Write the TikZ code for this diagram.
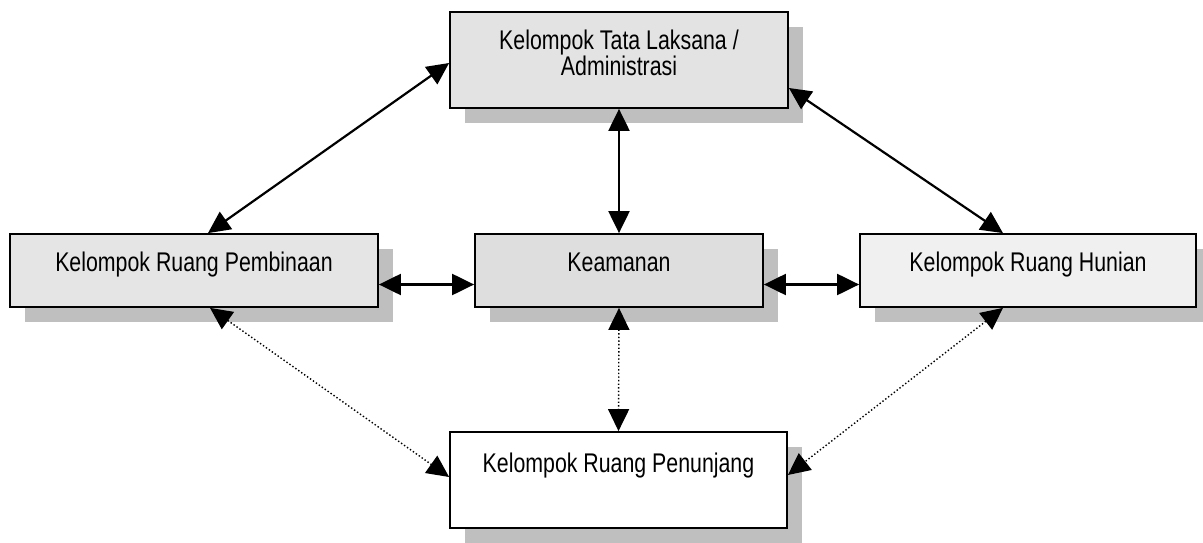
\documentclass[tikz,border=0pt]{standalone}
\usepackage{fontspec}
\setmainfont[FakeStretch=0.79]{Liberation Sans}
\usetikzlibrary{arrows.meta,shadows}
\begin{document}
\begin{tikzpicture}[x=1pt,y=-1pt,
  box/.style={draw=black, line width=1.8pt, rectangle, inner sep=0pt,
    drop shadow={shadow xshift=15pt, shadow yshift=-15pt, fill=gray!50, opacity=1}},
  lbl/.style={anchor=base, inner sep=0pt, font=\fontsize{27}{28}\selectfont},
  tip/.tip={Triangle[length=22pt,width=21pt]},
  solidarrow/.style={line width=2.2pt, tip-tip},
  dotarrow/.style={line width=1.4pt, dash pattern=on 1.4pt off 2.2pt, tip-tip}]
\useasboundingbox (0,0) rectangle (1203,543);

\node[box, fill=gray!22, minimum width=338pt, minimum height=96pt] (adm) at (619,60) {};
\node[lbl] (adm1) at (619,50) {Kelompok Tata Laksana /};
\node[lbl] (adm2) at (619,76) {Administrasi};

\node[box, fill=gray!20, minimum width=368pt, minimum height=73pt] (pemb) at (194,270.5) {};
\node[lbl] (pembt) at (194,271) {Kelompok Ruang Pembinaan};

\node[box, fill=gray!26, minimum width=288pt, minimum height=73pt] (aman) at (619,270.5) {};
\node[lbl] (amant) at (619,271) {Keamanan};

\node[box, fill=gray!12, minimum width=336pt, minimum height=73pt] (hun) at (1028,270.5) {};
\node[lbl] (hunt) at (1028,271) {Kelompok Ruang Hunian};

\node[box, fill=white, minimum width=337pt, minimum height=96pt] (penj) at (618.5,480) {};
\node[lbl] (penjt) at (618.5,472) {Kelompok Ruang Penunjang};

\draw[solidarrow] ([yshift=-3pt]adm.west) -- ([xshift=14pt]pemb.north);
\draw[solidarrow] ([yshift=-28pt]adm.east) -- ([xshift=-25pt]hun.north);
\draw[solidarrow] (adm.south) -- (aman.north);
\draw[solidarrow] ([yshift=-14pt]pemb.east) -- ([yshift=-14pt]aman.west);
\draw[solidarrow] ([yshift=-14pt]aman.east) -- ([yshift=-14pt]hun.west);
\draw[dotarrow] ([xshift=16pt]pemb.south) -- ([yshift=3pt]penj.west);
\draw[dotarrow] (aman.south) -- (penj.north);
\draw[dotarrow] ([xshift=-25pt]hun.south) -- ([yshift=5pt]penj.east);
\end{tikzpicture}
\end{document}
